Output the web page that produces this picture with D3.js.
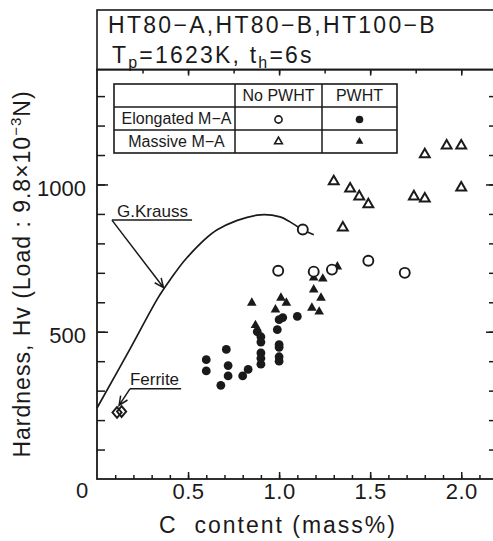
<!DOCTYPE html>
<html>
<head>
<meta charset="utf-8">
<script src="https://cdn.jsdelivr.net/npm/d3@7"></script>
<style>
  body { margin: 0; background: #fff; }
  svg text { font-family: "Liberation Sans", Arial, Helvetica, sans-serif; fill: #1a1a1a; }
</style>
</head>
<body>
<svg id="chart" width="493" height="541"></svg>
<script>
// G.Krauss reference curve (C mass%, Hv)
const kraussC  = [0, 0.18, 0.335, 0.40, 0.495, 0.66, 0.88, 1.005, 1.06, 1.13, 1.19];
const kraussHv = [241, 440, 615, 675, 752, 846, 896, 890, 873, 846, 829];

// Elongated M-A, no PWHT (open circles)
const elongNoC  = [0.995, 1.13, 1.19, 1.29, 1.49, 1.69];
const elongNoHv = [707, 847, 704, 711, 741, 700];

// Elongated M-A, PWHT (filled circles)
const elongPwC  = [0.60, 0.60, 0.68, 0.71, 0.72, 0.72, 0.80, 0.83, 0.88, 0.90, 0.90, 0.90, 0.90, 0.99, 1.00, 1.02, 1.00, 1.00, 1.00, 1.00, 1.10, 0.90];
const elongPwHv = [405, 367, 318, 440, 385, 350, 350, 372, 500, 483, 428, 410, 390, 507, 541, 548, 456, 447, 415, 400, 552, 465];

// Massive M-A, no PWHT (open triangles)
const massNoC  = [1.30, 1.39, 1.44, 1.49, 1.35, 1.74, 1.80, 1.80, 1.92, 2.00, 2.00];
const massNoHv = [1010, 986, 959, 932, 853, 959, 952, 1102, 1132, 1132, 989];

// Massive M-A, PWHT (filled triangles)
const massPwC  = [0.85, 0.87, 0.98, 1.01, 1.04, 1.19, 1.24, 1.19, 1.23, 1.18, 1.22, 1.32];
const massPwHv = [598, 522, 575, 615, 598, 683, 680, 643, 615, 581, 568, 721];

// Ferrite points (open diamonds)
const ferriteC  = [0.11, 0.135];
const ferriteHv = [226, 229];

// ticks
const xMajor = [0.5, 1.0, 1.5, 2.0];
const yMajor = [500, 1000];

const svg = d3.select("#chart");
const ink = "#1a1a1a";

const pL = 97, pR = 494, pT = 69.6, pB = 479;
const x = d3.scaleLinear().domain([0, 2.18]).range([pL, pR]);
const y = d3.scaleLinear().domain([0, 1390]).range([pB, pT]);

// title box (its right edge lies past the picture)
svg.append("rect")
  .attr("x", pL).attr("y", 10)
  .attr("width", 520).attr("height", pT - 10)
  .attr("fill", "none").attr("stroke", ink).attr("stroke-width", 1.6);

svg.append("text")
  .attr("x", 108).attr("y", 33)
  .attr("font-size", 23).attr("letter-spacing", 2.3)
  .text("HT80\u2212A,HT80\u2212B,HT100\u2212B");

const t2 = svg.append("text")
  .attr("x", 112).attr("y", 63)
  .attr("font-size", 23).attr("letter-spacing", 2.2);
t2.append("tspan").text("T");
t2.append("tspan").attr("font-size", 16).attr("dy", 5).text("p");
t2.append("tspan").attr("dy", -5).text("=1623K, t");
t2.append("tspan").attr("font-size", 16).attr("dy", 5).text("h");
t2.append("tspan").attr("dy", -5).text("=6s");

// plot frame
svg.append("rect")
  .attr("x", pL).attr("y", pT)
  .attr("width", 520).attr("height", pB - pT)
  .attr("fill", "none").attr("stroke", ink).attr("stroke-width", 1.8);

// axes (ticks pointing inward)
function styleAxis(g) {
  g.select(".domain").remove();
  g.selectAll("line").attr("stroke", ink).attr("stroke-width", 1.5);
}

svg.append("g").attr("transform", `translate(0,${pB})`)
  .call(d3.axisBottom(x).tickValues(d3.range(1, 22).map(d => d / 10)).tickSize(-4).tickFormat(""))
  .call(styleAxis);
svg.append("g").attr("transform", `translate(0,${pB})`)
  .call(d3.axisBottom(x).tickValues(xMajor).tickSize(-7).tickPadding(4).tickFormat(d3.format(".1f")))
  .call(styleAxis)
  .call(g => g.selectAll("text").attr("font-size", 22).attr("letter-spacing", 0.5).attr("fill", ink));

svg.append("g").attr("transform", `translate(0,${pT})`)
  .call(d3.axisTop(x).tickValues(d3.range(1, 9).map(d => d / 4)).tickSize(-4).tickFormat(""))
  .call(styleAxis);
svg.append("g").attr("transform", `translate(0,${pT})`)
  .call(d3.axisTop(x).tickValues(xMajor).tickSize(-6).tickFormat(""))
  .call(styleAxis);

svg.append("g").attr("transform", `translate(${pL},0)`)
  .call(d3.axisLeft(y).tickValues(d3.range(1, 14).map(d => d * 100)).tickSize(-8).tickFormat(""))
  .call(styleAxis);
svg.append("g").attr("transform", `translate(${pL},0)`)
  .call(d3.axisLeft(y).tickValues(yMajor).tickSize(-11).tickPadding(11).tickFormat(d3.format("d")))
  .call(styleAxis)
  .call(g => g.selectAll("text").attr("font-size", 22).attr("dy", "0.48em").attr("fill", ink));

svg.append("g").attr("transform", `translate(${pR},0)`)
  .call(d3.axisRight(y).tickValues(d3.range(1, 14).map(d => d * 100)).tickSize(-5).tickFormat(""))
  .call(styleAxis);
svg.append("g").attr("transform", `translate(${pR},0)`)
  .call(d3.axisRight(y).tickValues(yMajor).tickSize(-8).tickFormat(""))
  .call(styleAxis);

// origin label
svg.append("text").attr("x", 82).attr("y", 498)
  .attr("text-anchor", "middle").attr("font-size", 22).text("0");

// axis titles
svg.append("text")
  .attr("x", 278).attr("y", 533)
  .attr("text-anchor", "middle").attr("font-size", 23).attr("letter-spacing", 2)
  .attr("xml:space", "preserve")
  .text("C  content (mass%)");

const yl = svg.append("text")
  .attr("transform", "translate(30,274) rotate(-90)")
  .attr("text-anchor", "middle").attr("font-size", 23).attr("letter-spacing", 1);
yl.append("tspan").text("Hardness, Hv (Load : 9.8\u00d710");
yl.append("tspan").attr("font-size", 15).attr("dy", -9).text("\u22123");
yl.append("tspan").attr("dy", 9).text("N)");

// G.Krauss curve
const kraussPts = kraussC.map((c, i) => [c, kraussHv[i]]);
svg.append("path")
  .attr("d", d3.line().x(d => x(d[0])).y(d => y(d[1])).curve(d3.curveCatmullRom)(kraussPts))
  .attr("fill", "none").attr("stroke", ink).attr("stroke-width", 1.7);

// leader with open arrowhead
function leader(x1, y1, x2, y2) {
  const a = Math.atan2(y2 - y1, x2 - x1), L = 10, s = 0.42;
  const p = `M${x1},${y1}L${x2},${y2}` +
    `M${x2 - L * Math.cos(a - s)},${y2 - L * Math.sin(a - s)}L${x2},${y2}` +
    `L${x2 - L * Math.cos(a + s)},${y2 - L * Math.sin(a + s)}`;
  svg.append("path").attr("d", p).attr("fill", "none")
    .attr("stroke", ink).attr("stroke-width", 1.5);
}

svg.append("text").attr("x", x(0.11)).attr("y", y(890))
  .attr("font-size", 17).text("G.Krauss");
svg.append("line")
  .attr("x1", x(0.082)).attr("x2", x(0.522)).attr("y1", y(879)).attr("y2", y(879))
  .attr("stroke", ink).attr("stroke-width", 1.5);
leader(x(0.082), y(879), x(0.365), y(650));

svg.append("text").attr("x", x(0.181)).attr("y", y(319))
  .attr("font-size", 17).text("Ferrite");
svg.append("line")
  .attr("x1", x(0.181)).attr("x2", x(0.462)).attr("y1", y(306)).attr("y2", y(306))
  .attr("stroke", ink).attr("stroke-width", 1.5);
leader(x(0.181), y(306), x(0.121), y(250));

// markers
const tri = d3.symbol().type(d3.symbolTriangle);
function openCircles(cs, hs) {
  svg.append("g").selectAll("circle").data(cs).join("circle")
    .attr("cx", d => x(d)).attr("cy", (d, i) => y(hs[i])).attr("r", 5)
    .attr("fill", "#fff").attr("stroke", ink).attr("stroke-width", 1.9);
}
function fillCircles(cs, hs) {
  svg.append("g").selectAll("circle").data(cs).join("circle")
    .attr("cx", d => x(d)).attr("cy", (d, i) => y(hs[i])).attr("r", 4.4)
    .attr("fill", ink);
}
function openTris(cs, hs) {
  svg.append("g").selectAll("path").data(cs).join("path")
    .attr("d", tri.size(42)())
    .attr("transform", (d, i) => `translate(${x(d)},${y(hs[i])})`)
    .attr("fill", "#fff").attr("stroke", ink).attr("stroke-width", 2);
}
function fillTris(cs, hs) {
  svg.append("g").selectAll("path").data(cs).join("path")
    .attr("d", tri.size(40)())
    .attr("transform", (d, i) => `translate(${x(d)},${y(hs[i])})`)
    .attr("fill", ink);
}

fillCircles(elongPwC, elongPwHv);
fillTris(massPwC, massPwHv);
openCircles(elongNoC, elongNoHv);
openTris(massNoC, massNoHv);

svg.append("g").selectAll("path").data(ferriteC).join("path")
  .attr("d", d3.symbol().type(d3.symbolDiamond).size(60)())
  .attr("transform", (d, i) => `translate(${x(d)},${y(ferriteHv[i])}) scale(1.1,0.75)`)
  .attr("fill", "none").attr("stroke", ink).attr("stroke-width", 2);

// legend table
const lg = svg.append("g");
const colX = [114, 235, 322, 397];
const rowY = [84, 107, 130, 153];
lg.append("rect").attr("x", colX[0]).attr("y", rowY[0])
  .attr("width", colX[3] - colX[0]).attr("height", rowY[3] - rowY[0])
  .attr("fill", "#fff").attr("stroke", ink).attr("stroke-width", 1.6);
colX.slice(1, 3).forEach(cx => lg.append("line")
  .attr("x1", cx).attr("x2", cx).attr("y1", rowY[0]).attr("y2", rowY[3])
  .attr("stroke", ink).attr("stroke-width", 1.5));
rowY.slice(1, 3).forEach(ry => lg.append("line")
  .attr("x1", colX[0]).attr("x2", colX[3]).attr("y1", ry).attr("y2", ry)
  .attr("stroke", ink).attr("stroke-width", 1.5));

const heads = ["No PWHT", "PWHT"];
const rows = ["Elongated M\u2212A", "Massive M\u2212A"];
heads.forEach((h, i) => lg.append("text")
  .attr("x", (colX[i + 1] + colX[i + 2]) / 2).attr("y", rowY[1] - 6)
  .attr("text-anchor", "middle").attr("font-size", 16).text(h));
rows.forEach((r, i) => lg.append("text")
  .attr("x", (colX[0] + colX[1]) / 2 + 2).attr("y", rowY[i + 2] - 6)
  .attr("text-anchor", "middle").attr("font-size", 16).text(r));

const c1 = (colX[1] + colX[2]) / 2, c2 = (colX[2] + colX[3]) / 2;
const r1 = (rowY[1] + rowY[2]) / 2 + 1, r2 = (rowY[2] + rowY[3]) / 2;
lg.append("circle").attr("cx", c1).attr("cy", r1).attr("r", 3.6)
  .attr("fill", "#fff").attr("stroke", ink).attr("stroke-width", 1.6);
lg.append("circle").attr("cx", c2).attr("cy", r1).attr("r", 3.8).attr("fill", ink);
lg.append("path").attr("d", tri.size(26)()).attr("transform", `translate(${c1},${r2})`)
  .attr("fill", "#fff").attr("stroke", ink).attr("stroke-width", 1.6);
lg.append("path").attr("d", tri.size(26)()).attr("transform", `translate(${c2},${r2})`)
  .attr("fill", ink);
</script>
</body>
</html>
